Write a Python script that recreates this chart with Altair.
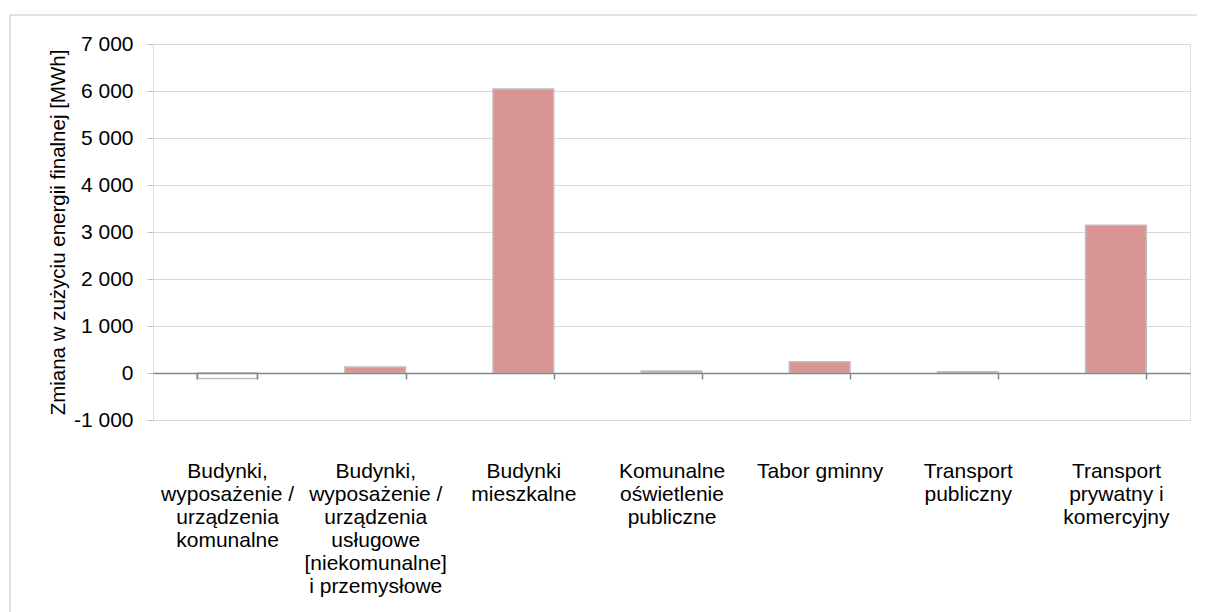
import altair as alt
import pandas as pd

# ---- data ----
categories = [
    "Budynki,|wyposażenie /|urządzenia|komunalne",
    "Budynki,|wyposażenie /|urządzenia|usługowe|[niekomunalne]|i przemysłowe",
    "Budynki|mieszkalne",
    "Komunalne|oświetlenie|publiczne",
    "Tabor gminny",
    "Transport|publiczny",
    "Transport|prywatny i|komercyjny",
]
values = [-115, 130, 6040, 45, 240, 25, 3145]
y_ticks = [-1000, 0, 1000, 2000, 3000, 4000, 5000, 6000, 7000]
y_title = "Zmiana w zużyciu energii  finalnej [MWh]"

df = pd.DataFrame({"kategoria": categories, "zmiana": values})

FONT = "Liberation Sans"
W, H = 1037, 376
Y_MIN, Y_MAX = -1000, 7000
# move the category axis line up to the zero level
zero_offset = -H * (0 - Y_MIN) / (Y_MAX - Y_MIN)

label_expr = (
    "(datum.value < 0 ? '-' : '') + "
    "replace(format(abs(datum.value), ','), ',', ' ')"
)

x_enc = alt.X(
    "kategoria:N",
    sort=categories,
    scale=alt.Scale(paddingInner=0.59, paddingOuter=0.295),
    axis=alt.Axis(
        title=None,
        labelExpr="split(datum.label, '|')",
        labelAngle=0,
        labelFont=FONT,
        labelFontSize=21,
        labelColor="black",
        labelLineHeight=23,
        labelPadding=81,
        labelBaseline="top",
        labelOverlap=False,
        labelLimit=300,
        tickBand="extent",
        tickSize=6,
        tickColor="#868686",
        tickWidth=1.5,
        domainColor="#868686",
        domainWidth=1.5,
        offset=zero_offset,
        zindex=1,
    ),
)

y_enc = alt.Y(
    "zmiana:Q",
    scale=alt.Scale(domain=[Y_MIN, Y_MAX], nice=False, zero=False),
    axis=alt.Axis(
        values=y_ticks,
        labelExpr=label_expr,
        labelFont=FONT,
        labelFontSize=21,
        labelColor="black",
        labelPadding=14,
        tickSize=6,
        tickColor="#bfbfbf",
        domain=False,
        grid=True,
        gridColor="#d9d9d9",
        gridWidth=1.2,
        title=y_title,
        titleFont=FONT,
        titleFontSize=20.5,
        titleFontWeight="normal",
        titleColor="black",
        titleAngle=-90,
        titleX=-95,
        titleY=H / 2,
        titleAlign="center",
        titleBaseline="middle",
    ),
)

bars = alt.Chart(df).mark_bar(stroke="#bfbfbf", strokeWidth=1.5).encode(
    x=x_enc,
    y=y_enc,
    fill=alt.condition("datum.zmiana < 0", alt.value("white"), alt.value("#d99594")),
)

frame = alt.Chart(pd.DataFrame({"a": [0]})).mark_rect(
    fillOpacity=0, stroke="#d9d9d9", strokeWidth=1.5, clip=False
).encode(
    x=alt.value(-143), x2=alt.value(W + 40),
    y=alt.value(-29), y2=alt.value(H + 250),
)

chart = alt.layer(frame, bars).properties(
    width=W,
    height=H,
    autosize=alt.AutoSizeParams(type="none"),
    padding={"left": 145, "top": 36, "right": 7, "bottom": 192},
).configure_view(stroke="#d9d9d9", strokeWidth=1.2).configure(font=FONT, background="white")

chart.save("out.html", embed_options={"renderer": "svg", "actions": False})
